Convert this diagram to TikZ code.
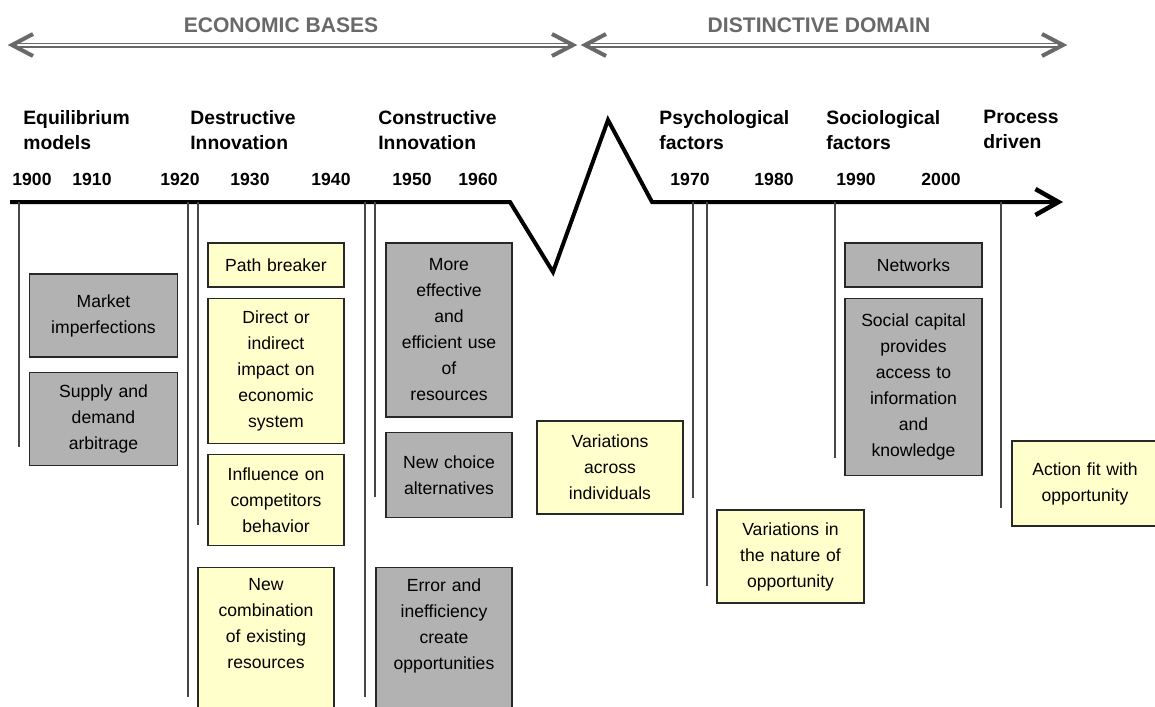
\documentclass[tikz,border=0pt]{standalone}
\usepackage{fontspec}
\setmainfont{Liberation Sans}
\usetikzlibrary{
  arrows.meta,
  positioning
}
\definecolor{greybox}{RGB}{178, 178, 178}
\definecolor{yellowbox}{RGB}{255, 255, 204}
\definecolor{boxline}{RGB}{40, 40, 40}
\definecolor{yearlinecolor}{RGB}{70, 70, 70}
\definecolor{bandcolor}{RGB}{105, 105, 105}
\tikzset{
boxtext/.style={
  align=center,
  font=\fontsize{10}{14.8}\selectfont,
  text=black
},
greyblock/.style={
  draw=boxline,
  line width=0.25mm,
  fill=greybox,
  inner xsep=0pt,
  inner ysep=0pt,
  boxtext
},
yellowblock/.style={
  draw=boxline,
  line width=0.25mm,
  fill=yellowbox,
  inner xsep=0pt,
  inner ysep=0pt,
  boxtext
},
eralabel/.style={
  font=\bfseries\fontsize{11}{14.2}\selectfont,
  align=left,
  anchor=north west,
  inner sep=0pt
},
yearlabel/.style={
  font=\bfseries\fontsize{10}{12}\selectfont,
  inner sep=0pt
},
domainlabel/.style={
  font=\bfseries\fontsize{12}{14}\selectfont,
  text=bandcolor,
  inner sep=0pt
},
band/.style={
  draw=bandcolor,
  line width=0.3mm,
  double=white,
  double distance=0.4mm,
  shorten <=0.6mm,
  shorten >=0.6mm
},
bandtip/.style={
  draw=bandcolor,
  line width=0.8mm
},
timeline/.style={
  draw=black,
  line width=0.8mm,
  -{Straight Barb[length=4.6mm,width=5.2mm,line width=0.9mm]}
},
yearline/.style={
  draw=yearlinecolor,
  line width=0.3mm
}
}

\begin{document}
\begin{tikzpicture}[x=0.2mm, y=-0.2mm]
  \useasboundingbox (0,0) rectangle (1155,706);

  % domains on top
  \coordinate (ebl) at (12,45);
  \coordinate (ebr) at (573,45);
  \coordinate (ddl) at (585,45);
  \coordinate (ddr) at (1063,45);
  \draw[band] (ebl) -- (ebr);
  \draw[band] (ddl) -- (ddr);
  \foreach \p in {ebl,ddl}
    \draw[bandtip] ([shift={(21,-11)}]\p) -- (\p) -- ([shift={(21,11)}]\p);
  \foreach \p in {ebr,ddr}
    \draw[bandtip] ([shift={(-21,-11)}]\p) -- (\p) -- ([shift={(-21,11)}]\p);
  \node[domainlabel] (ecobases) at (281,25) {ECONOMIC BASES};
  \node[domainlabel] (distdomain) at (819,25) {DISTINCTIVE DOMAIN};

  % eras
  \node[eralabel] (eqm) at (23,110) {Equilibrium\\models};
  \node[eralabel] (destr) at (190,110) {Destructive\\Innovation};
  \node[eralabel] (constr) at (378,110) {Constructive\\Innovation};
  \node[eralabel] (psych) at (659,110) {Psychological\\factors};
  \node[eralabel] (socio) at (826,110) {Sociological\\factors};
  \node[eralabel] (proc) at (983,110) {Process\\driven};

  % years
  \foreach \x/\yr in {32/1900, 92/1910, 180/1920, 250/1930, 331/1940,
                      412/1950, 478/1960, 690/1970, 774/1980, 856/1990, 941/2000}
    \node[yearlabel] (y\yr) at (\x,179) {\yr};

  % time axis with the break
  \coordinate (t0) at (10,202);
  \coordinate (tb1) at (510,202);
  \coordinate (tlow) at (553,272);
  \coordinate (tpeak) at (608,120);
  \coordinate (tb2) at (652,202);
  \coordinate (tend) at (1063,202);
  \draw[timeline] (t0) -- (tb1) -- (tlow) -- (tpeak) -- (tb2) -- (tend);

  \foreach \x/\yb in {19/447, 188/697, 198/525, 365/697, 375/497,
                      693/498, 707/586, 835/458, 1001/508}
    \draw[yearline] (\x,202) -- (\x,\yb);

  % economic bases
  \node[greyblock, text width=29.6mm, minimum height=16.6mm] (mkt) at (103.5,315.5)
    {Market\\imperfections};
  \node[greyblock, text width=29.6mm, minimum height=18.6mm, below=2.8mm of mkt] (supply)
    {Supply and\\demand\\arbitrage};

  \node[yellowblock, text width=27.2mm, minimum height=8.8mm] (pathbrk) at (276,265)
    {Path breaker};
  \node[yellowblock, text width=27.2mm, minimum height=29mm, below=2mm of pathbrk] (impact)
    {Direct or\\indirect\\impact on\\economic\\system};
  \node[yellowblock, text width=27.2mm, minimum height=18.2mm, below=2mm of impact] (influence)
    {Influence on\\competitors\\behavior};
  \node[yellowblock, text width=27.2mm, minimum height=34.4mm, anchor=north] (newcomb) at (266,567)
    {New\\combination\\of existing\\resources\\ \strut\\ \strut};

  \node[greyblock, text width=25.2mm, minimum height=34.8mm] (efficient) at (449,330)
    {More\\effective\\and\\efficient use\\of\\resources};
  \node[greyblock, text width=25.2mm, minimum height=17mm, below=2.8mm of efficient] (choice)
    {New choice\\alternatives};
  \node[greyblock, text width=27.2mm, minimum height=34.4mm, anchor=north] (error) at (444,567)
    {Error and\\inefficiency\\create\\opportunities\\ \strut\\ \strut};

  % distinctive domain
  \node[yellowblock, text width=29.2mm, minimum height=18.6mm] (across) at (610,467.5)
    {Variations\\across\\individuals};
  \node[yellowblock, text width=29.4mm, minimum height=18.6mm] (nature) at (790.5,556.5)
    {Variations in\\the nature of\\opportunity};
  \node[greyblock, text width=27.4mm, minimum height=8.8mm] (networks) at (913.5,265)
    {Networks};
  \node[greyblock, text width=27.4mm, minimum height=35.4mm, below=2mm of networks] (social)
    {Social capital\\provides\\access to\\information\\and\\knowledge};
  \node[yellowblock, text width=29.2mm, minimum height=17mm] (action) at (1085,483.5)
    {Action fit with\\opportunity};
\end{tikzpicture}
\end{document}
